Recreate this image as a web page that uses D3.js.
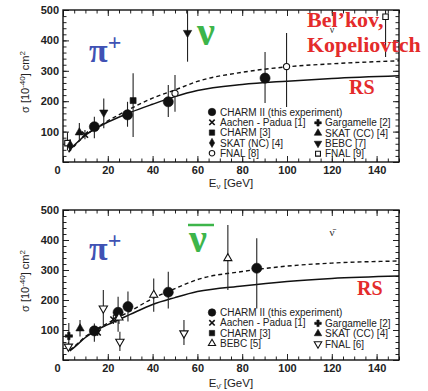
<!DOCTYPE html>
<html><head><meta charset="utf-8">
<script src="https://cdn.jsdelivr.net/npm/d3@7"></script>
<style>body{margin:0;background:#fff}</style>
</head><body>
<svg id="c" width="428" height="391" xmlns="http://www.w3.org/2000/svg"></svg>
<script>
// ---------- data ----------
const xTickLabels = [0, 20, 40, 60, 80, 100, 120, 140];
const yTickLabels = [0, 100, 200, 300, 400, 500];
// [E (GeV), sigma, errLow, errHigh, marker]
const nuPoints = [
  [2.0, 62, 38, 98, "sqOpen"],
  [3.2, 55, 40, 75, "diamond"],
  [7.3, 97, 70, 128, "triUp"],
  [9.8, 90, 75, 105, "cross"],
  [14.0, 116, 78, 149, "circleBig"],
  [18.2, 163, 111, 209, "triDown"],
  [28.8, 155, 116, 198, "circleBig"],
  [31.3, 202, 82, 292, "square"],
  [47.0, 198, 148, 253, "circleBig"],
  [50.0, 226, 165, 286, "circleOpen"],
  [55.6, 425, 330, 500, "triDown"],
  [90.2, 276, 194, 362, "circleBig"],
  [99.8, 314, 181, 424, "circleOpen"],
  [144.0, 478, 345, 500, "sqOpen"]
];
const nuSolid = [[2.5,35],[5,55],[10,88],[15,112],[20,131],[30,163],[40,190],[50,215],[60,235],[80,255],[100,266],[120,275],[150,284]];
const nuDashed = [[2.5,32],[5,52],[10,88],[15,113],[20,135],[30,175],[40,210],[50,237],[60,265],[80,295],[100,313],[120,323],[150,333]];

const nubarPoints = [
  [2.6, 80, 43, 123, "plus"],
  [2.4, 45, 30, 60, "triDownOpen"],
  [7.6, 105, 78, 133, "triUp"],
  [14.0, 97, 61, 122, "circleBig"],
  [15.5, 92, 80, 104, "cross"],
  [18.0, 172, 111, 233, "triDownOpen"],
  [22.5, 135, 120, 150, "cross"],
  [24.6, 159, 94, 211, "circleBig"],
  [25.0, 141, 120, 160, "triUpOpen"],
  [25.4, 61, 30, 94, "triDownOpen"],
  [29.0, 178, 128, 228, "circleBig"],
  [40.5, 217, 161, 272, "triUpOpen"],
  [47.0, 226, 172, 294, "circleBig"],
  [54.0, 89, 50, 133, "triDownOpen"],
  [73.6, 339, 233, 450, "triUpOpen"],
  [86.5, 306, 172, 406, "circleBig"]
];
const nubarSolid = [[3,30],[5,42],[10,75],[15,100],[20,118],[25,135],[30,152],[40,185],[50,208],[60,228],[80,247],[100,262],[120,272],[150,280]];
const nubarDashed = [[3,33],[5,45],[10,78],[15,103],[20,123],[25,143],[30,163],[40,205],[50,238],[60,268],[80,295],[100,313],[120,323],[150,330]];

const nuLegendLeft = [["circleBig","CHARM II (this experiment)"],["cross","Aachen - Padua [1]"],["square","CHARM [3]"],["diamond","SKAT (NC) [4]"],["circleOpen","FNAL [8]"]];
const nuLegendRight = [["plus","Gargamelle [2]"],["triUp","SKAT (CC) [4]"],["triDown","BEBC [7]"],["sqOpen","FNAL [9]"]];
const nubarLegendLeft = [["circleBig","CHARM II (this experiment)"],["cross","Aachen - Padua [1]"],["square","CHARM [3]"],["triUpOpen","BEBC [5]"]];
const nubarLegendRight = [["plus","Gargamelle [2]"],["triUp","SKAT (CC) [4]"],["triDownOpen","FNAL [6]"]];

// ---------- drawing ----------
const svg = d3.select("#c");
svg.append("rect").attr("width",428).attr("height",391).attr("fill","#fff");

function marker(g, type, x, y, scale) {
  scale = scale || 1;
  const sym = {
    circleBig:[d3.symbolCircle,80,true], circleOpen:[d3.symbolCircle,30,false],
    square:[d3.symbolSquare,36,true], sqOpen:[d3.symbolSquare,30,false],
    diamond:[d3.symbolDiamond,30,true], triUp:[d3.symbolTriangle,30,true],
    triUpOpen:[d3.symbolTriangle,28,false], triDown:[d3.symbolTriangle,30,true],
    triDownOpen:[d3.symbolTriangle,30,false], plus:[d3.symbolCross,30,true],
    cross:[d3.symbolX,26,false]
  }[type];
  const rot = (type==="triDown"||type==="triDownOpen") ? 180 : 0;
  const p = g.append("path")
    .attr("d", d3.symbol(sym[0], sym[1]*scale)())
    .attr("transform", `translate(${x},${y}) rotate(${rot})`);
  if (type==="cross") p.attr("fill","none").attr("stroke","#111").attr("stroke-width",1.6);
  else if (sym[2]) p.attr("fill","#111").attr("stroke","#111").attr("stroke-width",0.6);
  else p.attr("fill","#fff").attr("stroke","#111").attr("stroke-width",1.1);
}

function panel(top, bottom, points, solid, dashed, legL, legR, legY, titleY, barTitle) {
  const x = d3.scaleLinear().domain([0,150]).range([63,399]);
  const y = d3.scaleLinear().domain([0,500]).range([bottom, top]);
  const g = svg.append("g");
  const minorX = d3.range(0,151,5), minorY = d3.range(0,501,20);

  const ax = (gen, tr, vals, size, labels) => {
    const a = g.append("g").attr("transform", tr)
      .call(gen.tickValues(vals).tickSizeInner(-size).tickSizeOuter(0).tickPadding(4)
        .tickFormat(labels ? d3.format("d") : ""));
    a.select(".domain").remove();
    a.selectAll("line").attr("stroke","#222").attr("stroke-width",1);
    a.selectAll("text").attr("font-family","Liberation Sans, Arial, sans-serif")
      .attr("font-size",11).attr("font-weight","bold").attr("fill","#222");
    return a;
  };
  ax(d3.axisBottom(x), `translate(0,${bottom})`, minorX, 3.5, false);
  const bx = ax(d3.axisBottom(x), `translate(0,${bottom})`, xTickLabels, 6, true);
  bx.selectAll(".tick text").filter(d=>d===0).attr("x",-6);
  ax(d3.axisTop(x), `translate(0,${top})`, minorX, 3.5, false);
  ax(d3.axisTop(x), `translate(0,${top})`, xTickLabels, 6, false);
  ax(d3.axisLeft(y), `translate(63,0)`, minorY, 3.5, false);
  const ly = ax(d3.axisLeft(y), `translate(63,0)`, yTickLabels, 6, true);
  ly.selectAll(".tick text").filter(d=>d===0).remove();
  ax(d3.axisRight(y), `translate(399,0)`, minorY, 3.5, false);
  ax(d3.axisRight(y), `translate(399,0)`, yTickLabels, 6, false);

  g.append("rect").attr("x",63).attr("y",top).attr("width",336).attr("height",bottom-top)
    .attr("fill","none").attr("stroke","#111").attr("stroke-width",1.4);

  const line = d3.line().x(d=>x(d[0])).y(d=>y(d[1])).curve(d3.curveMonotoneX);
  g.append("path").attr("d",line(solid)).attr("fill","none").attr("stroke","#111").attr("stroke-width",1.5);
  g.append("path").attr("d",line(dashed)).attr("fill","none").attr("stroke","#111").attr("stroke-width",1.4)
    .attr("stroke-dasharray","4,3");

  points.forEach(p => {
    g.append("line").attr("x1",x(p[0])).attr("x2",x(p[0]))
      .attr("y1",y(Math.min(p[3],500))).attr("y2",y(p[2]))
      .attr("stroke","#222").attr("stroke-width",1.1);
  });
  points.forEach(p => marker(g, p[4], x(p[0]), y(p[1])));

  // legend
  const font = "Liberation Sans, Arial, sans-serif";
  legL.forEach((d,i) => {
    marker(g, d[0], 212, legY + i*10.3, d[0]==="circleBig"?0.55:0.8);
    g.append("text").attr("x",220).attr("y",legY + i*10.3 + 3.6).text(d[1])
      .attr("font-family",font).attr("font-size",10).attr("fill","#222");
  });
  legR.forEach((d,i) => {
    marker(g, d[0], 318, legY + 10.8 + i*10.3, 0.8);
    g.append("text").attr("x",325).attr("y",legY + 10.8 + i*10.3 + 3.6).text(d[1])
      .attr("font-family",font).attr("font-size",10).attr("fill","#222");
  });

  // axis titles
  const yt = g.append("text").attr("transform",`translate(29,${(top+bottom)/2-4}) rotate(-90)`)
    .attr("text-anchor","middle").attr("font-family",font).attr("font-size",11).attr("fill","#222");
  yt.append("tspan").text("σ [10");
  yt.append("tspan").text("-40").attr("font-size",8).attr("dy",-4);
  yt.append("tspan").text("] cm").attr("dy",4);
  yt.append("tspan").text("2").attr("font-size",8).attr("dy",-4);

  const xt = g.append("text").attr("x",231).attr("y",titleY).attr("text-anchor","middle")
    .attr("font-family",font).attr("font-size",11.5).attr("fill","#222");
  xt.append("tspan").text("E");
  xt.append("tspan").text(barTitle ? "ν̄" : "ν").attr("font-size",8).attr("dy",2);
  xt.append("tspan").text(" [GeV]").attr("dy",-2);
  return {x, y, g};
}

panel(10, 162, nuPoints, nuSolid, nuDashed, nuLegendLeft, nuLegendRight, 112, 187, false);
panel(210, 360, nubarPoints, nubarSolid, nubarDashed, nubarLegendLeft, nubarLegendRight, 312.5, 387, true);

// small nu labels inside plots (partly hidden behind red text as in the original)
svg.append("text").attr("x",332).attr("y",33).attr("text-anchor","middle").text("ν")
  .attr("font-family","Liberation Serif, serif").attr("font-size",10).attr("fill","#333");
svg.append("text").attr("x",332).attr("y",236).attr("text-anchor","middle").text("ν̄")
  .attr("font-family","Liberation Serif, serif").attr("font-size",11).attr("fill","#333");

// colored annotations
const serif = "Liberation Serif, Times New Roman, serif";
function piPlus(xp, base) {
  const t = svg.append("text").attr("x",xp).attr("y",base).attr("font-family",serif)
    .attr("font-weight","bold").attr("fill","#4052b4");
  t.append("tspan").text("π").attr("font-size",34);
  t.append("tspan").text("+").attr("font-size",24).attr("dy",-12);
}
piPlus(89, 62);
piPlus(89, 260);
svg.append("text").attr("x",197).attr("y",45).text("ν").attr("font-family",serif)
  .attr("font-weight","bold").attr("font-size",40).attr("fill","#3db54a");
svg.append("text").attr("x",189).attr("y",252).text("ν").attr("font-family",serif)
  .attr("font-weight","bold").attr("font-size",40).attr("fill","#3db54a");
svg.append("line").attr("x1",188).attr("x2",214).attr("y1",225).attr("y2",225)
  .attr("stroke","#3db54a").attr("stroke-width",2.5);

const red = "#e42b2b";
[["Bel’kov,",307,27],["Kopeliovtch",307,51.5],["RS",349,94],["RS",357,295]].forEach(d=>{
  svg.append("text").attr("x",d[1]).attr("y",d[2]).text(d[0]).attr("font-family",serif)
    .attr("font-weight","bold").attr("font-size", d[0]==="RS"?20:22).attr("fill",red);
});
</script>
</body></html>
